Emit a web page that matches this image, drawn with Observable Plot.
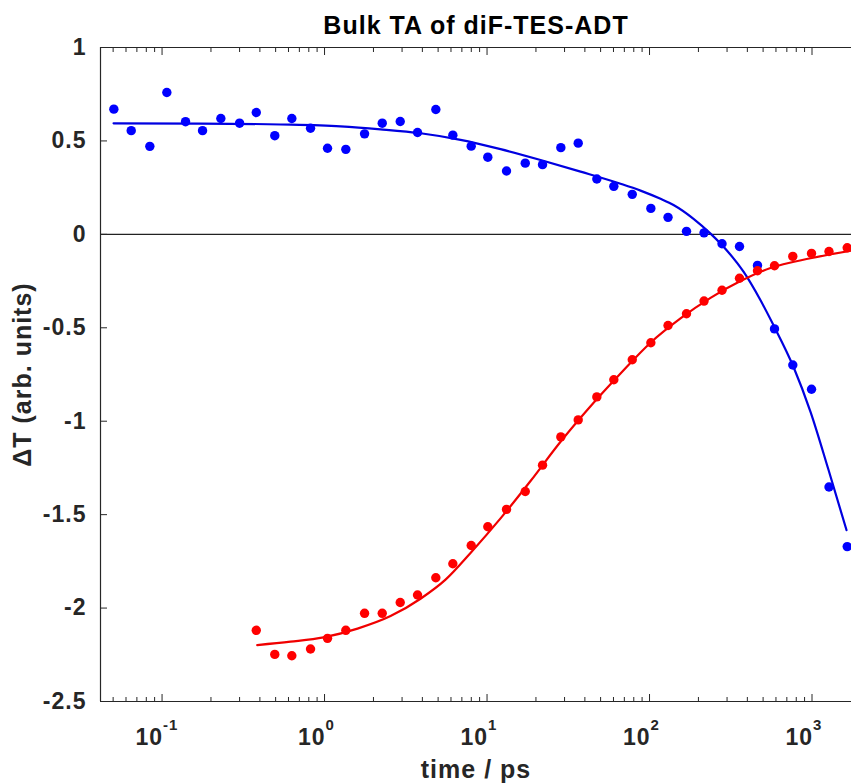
<!DOCTYPE html>
<html><head><meta charset="utf-8">
<script src="https://cdn.jsdelivr.net/npm/d3@7"></script>
<script src="https://cdn.jsdelivr.net/npm/@observablehq/plot@0.6"></script>
<style>
body{margin:0;background:#fff;}
svg text{letter-spacing:1px;}
</style></head><body><div id="chart"></div>
<script>
// ---- data ----
const times = [0.0505, 0.0646, 0.0841, 0.107, 0.1395, 0.1775, 0.230, 0.300, 0.380, 0.494, 0.629, 0.820, 1.043, 1.352, 1.763, 2.265, 2.923, 3.735, 4.84, 6.16, 7.99, 10.11, 13.18, 17.19, 21.96, 28.46, 36.40, 47.4, 60.3, 78.3, 101.9, 130, 168.9, 216.5, 279.4, 357.9, 461.8, 587.7, 761.7, 993, 1272, 1647];
const blueValues = [0.670,0.555,0.471,0.759,0.603,0.555,0.620,0.595,0.652,0.528,0.620,0.568,0.461,0.455,0.538,0.595,0.604,0.545,0.668,0.531,0.472,0.413,0.339,0.381,0.373,0.464,0.488,0.296,0.257,0.214,0.139,0.091,0.016,0.008,-0.050,-0.065,-0.166,-0.506,-0.699,-0.829,-1.352,-1.671];
const redStartIndex = 8;
const redValues = [-2.119,-2.248,-2.255,-2.219,-2.162,-2.119,-2.028,-2.028,-1.970,-1.930,-1.838,-1.763,-1.665,-1.565,-1.472,-1.376,-1.235,-1.084,-0.993,-0.870,-0.778,-0.671,-0.580,-0.488,-0.425,-0.357,-0.299,-0.235,-0.195,-0.168,-0.118,-0.102,-0.092,-0.072];
const blueFitTimes = [0.0503,0.1725,0.536,1.254,2.211,3.897,6.870,12.11,21.35,37.62,66.31,88.05,116.9,140.5,186.6,237.4,302.0,378.8,482.1,579.7,769.5,979,1263,1631];
const blueFitValues = [0.594,0.593,0.588,0.578,0.562,0.541,0.506,0.456,0.398,0.336,0.271,0.234,0.190,0.157,0.083,0.004,-0.090,-0.200,-0.353,-0.487,-0.710,-0.950,-1.260,-1.583];
const redFitTimes = [0.3853,0.6177,0.9859,1.596,2.548,3.897,5.554,7.914,12.11,18.52,28.34,43.35,66.31,101.4,155.1,237.4,363.1,555.4,979,1750];
const redFitValues = [-2.198,-2.180,-2.157,-2.110,-2.043,-1.950,-1.848,-1.705,-1.520,-1.320,-1.110,-0.920,-0.745,-0.580,-0.450,-0.340,-0.250,-0.180,-0.128,-0.086];
const yTicks = [1, 0.5, 0, -0.5, -1, -1.5, -2, -2.5];
const xMajorTicks = [0.1, 1, 10, 100, 1000];
const xTickBases = ["10", "10", "10", "10", "10"];
const xTickExponents = ["-1", "0", "1", "2", "3"];
const xDomain = [0.0418, 1750];
const yDomain = [-2.5, 1];
const titleText = "Bulk TA of diF-TES-ADT";
const xLabelText = "time / ps";
const yLabelText = "\u0394T (arb. units)";

// ---- derived tables ----
const blue = times.map((t, i) => ({t, v: blueValues[i]}));
const red = redValues.map((v, i) => ({t: times[i + redStartIndex], v}));
const blueFit = blueFitTimes.map((t, i) => ({t, v: blueFitValues[i]}));
const redFit = redFitTimes.map((t, i) => ({t, v: redFitValues[i]}));
const xMinorTicks = [];
for (const dec of [0.01, 0.1, 1, 10, 100, 1000]) for (let k = 2; k <= 9; k++) {
  const v = dec * k; if (v >= xDomain[0] && v <= xDomain[1]) xMinorTicks.push(v);
}
const xTickLabels = xMajorTicks.map((t, i) => ({t, base: xTickBases[i], exp: xTickExponents[i]}));

const axisColor = "#262626";
const font = "'Liberation Sans', Arial, Helvetica, sans-serif";
const blankFmt = () => "";

const chart = Plot.plot({
  width: 851, height: 783,
  marginLeft: 100, marginRight: 0, marginTop: 47, marginBottom: 82,
  style: {fontFamily: font, background: "#fff", color: axisColor, overflow: "visible"},
  x: {type: "log", domain: xDomain, axis: null},
  y: {domain: yDomain, axis: null},
  marks: [
    Plot.ruleY([0], {stroke: "#222", strokeWidth: 1.3}),
    Plot.ruleX([xDomain[0]], {stroke: axisColor, strokeWidth: 1.2}),
    Plot.ruleY(yDomain, {stroke: axisColor, strokeWidth: 1.2}),
    Plot.axisY({ticks: yTicks, tickSize: -7, tickPadding: 21, tickFormat: d => String(d), fontSize: 23, fontWeight: "bold", label: null}),
    Plot.axisX({anchor: "bottom", ticks: xMinorTicks, tickSize: -4, tickFormat: blankFmt, label: null}),
    Plot.axisX({anchor: "bottom", ticks: xMajorTicks, tickSize: -7, tickFormat: blankFmt, label: null}),
    Plot.axisX({anchor: "top", ticks: xMinorTicks, tickSize: -4, tickFormat: blankFmt, label: null}),
    Plot.axisX({anchor: "top", ticks: xMajorTicks, tickSize: -7, tickFormat: blankFmt, label: null}),
    Plot.text(xTickLabels, {x: "t", text: "base", frameAnchor: "bottom", textAnchor: "end", lineAnchor: "middle", dx: 1, dy: 36, fontSize: 23, fontWeight: "bold", fill: axisColor}),
    Plot.text(xTickLabels, {x: "t", text: "exp", frameAnchor: "bottom", textAnchor: "start", lineAnchor: "middle", dx: 1, dy: 24, fontSize: 15, fontWeight: "bold", fill: axisColor}),
    Plot.line(blueFit, {x: "t", y: "v", stroke: "#0000e0", strokeWidth: 2.2, curve: "monotone-x"}),
    Plot.line(redFit, {x: "t", y: "v", stroke: "#f00000", strokeWidth: 2.2, curve: "monotone-x"}),
    Plot.dot(blue, {x: "t", y: "v", r: 4.7, fill: "#0000ff"}),
    Plot.dot(red, {x: "t", y: "v", r: 4.7, fill: "#ff0000"}),
    Plot.text([titleText], {text: d => d, frameAnchor: "top", lineAnchor: "middle", textAnchor: "middle", dy: -22, fontSize: 25, fontWeight: "bold", fill: "#000"}),
    Plot.text([xLabelText], {text: d => d, frameAnchor: "bottom", lineAnchor: "middle", textAnchor: "middle", dy: 68, fontSize: 25, fontWeight: "bold", fill: axisColor}),
    Plot.text([yLabelText], {text: d => d, frameAnchor: "left", lineAnchor: "middle", textAnchor: "middle", dx: -78, rotate: -90, fontSize: 25, fontWeight: "bold", fill: axisColor})
  ]
});
document.getElementById("chart").appendChild(chart);
</script></body></html>
